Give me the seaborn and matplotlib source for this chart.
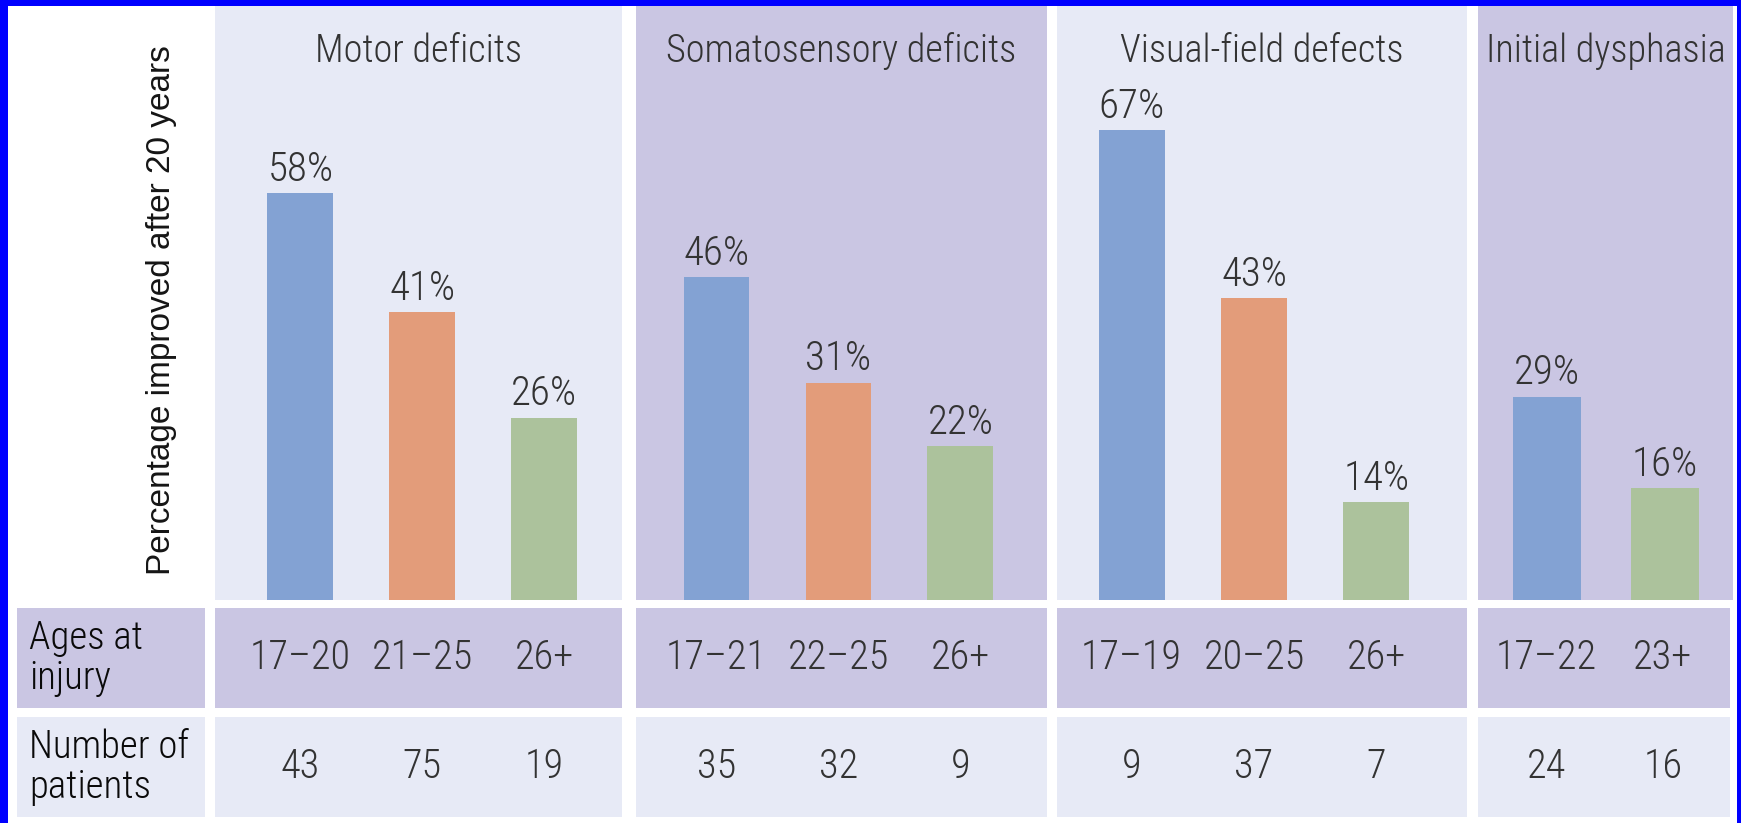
import numpy as np
import pandas as pd
import matplotlib
matplotlib.use("Agg")
import matplotlib.pyplot as plt
from matplotlib import font_manager as fm
from matplotlib.patches import Rectangle
import seaborn as sns

# data
groups = ["Motor deficits", "Somatosensory deficits", "Visual-field defects", "Initial dysphasia"]
motor_pct = [58, 41, 26]
soma_pct = [46, 31, 22]
visual_pct = [67, 43, 14]
dysph_pct = [29, 16]
motor_ages = ["17\u201320", "21\u201325", "26+"]
soma_ages = ["17\u201321", "22\u201325", "26+"]
visual_ages = ["17\u201319", "20\u201325", "26+"]
dysph_ages = ["17\u201322", "23+"]
motor_n = [43, 75, 19]
soma_n = [35, 32, 9]
visual_n = [9, 37, 7]
dysph_n = [24, 16]
row_labels = ["Ages at\ninjury", "Number of\npatients"]
y_label = "Percentage improved after 20 years"

sns.set_theme(style="white")

# pick a condensed face if there is one
names = {f.name for f in fm.fontManager.ttflist}
narrow = next((n for n in ["Roboto Condensed", "Liberation Sans Narrow", "Open Sans Condensed"]
               if n in names), None)
cond_dejavu = any(f.name == "DejaVu Sans" and f.stretch == "condensed" for f in fm.fontManager.ttflist)
if narrow:
    nfont = dict(family=narrow, weight="light")
elif cond_dejavu:
    nfont = dict(family="DejaVu Sans", stretch="condensed")
else:
    nfont = dict(family="Liberation Sans")

light = "#e7eaf6"
purple = "#cac6e3"
blue, orange, green = "#83a2d3", "#e39c7a", "#acc29c"
txt = "#333333"

W, H = 1741, 823
fig = plt.figure(figsize=(W / 100, H / 100), dpi=100, facecolor="#0000ff")
fig.add_artist(Rectangle((8 / W, 0), 1729 / W, 817 / H, transform=fig.transFigure,
                         facecolor="white", edgecolor="none", zorder=-5))


def box(x0, y0, x1, y1):
    return [x0 / W, 1 - y1 / H, (x1 - x0) / W, (y1 - y0) / H]


def clean(ax, bg):
    ax.set_facecolor(bg)
    ax.set_xticks([])
    ax.set_yticks([])
    ax.set_xlabel("")
    ax.set_ylabel("")
    for s in ax.spines.values():
        s.set_visible(False)


panels = [
    (motor_pct, motor_ages, motor_n, [blue, orange, green], (215, 622), (-0.70, 2.64), 0.54, light),
    (soma_pct, soma_ages, soma_n, [blue, orange, green], (636, 1047), (-0.66, 2.71), 0.54, purple),
    (visual_pct, visual_ages, visual_n, [blue, orange, green], (1057, 1467), (-0.61, 2.74), 0.54, light),
    (dysph_pct, dysph_ages, dysph_n, [blue, green], (1478, 1733), (-0.585, 1.575), 0.58, purple),
]

for title, (pct, ages, counts, cols, (x0, x1), xl, w, bg) in zip(groups, panels):
    ax = fig.add_axes(box(x0, 6, x1, 600))
    df = pd.DataFrame({"age": ages, "pct": pct})
    sns.barplot(data=df, x="age", y="pct", hue="age", palette=cols, width=w,
                saturation=1, legend=False, linewidth=0, ax=ax)
    ax.set_xlim(*xl)
    ax.set_ylim(0, 84.7)
    clean(ax, bg)
    for c, v in zip(ax.containers, pct):
        ax.bar_label(c, labels=[f"{v}%"], padding=3, fontsize=29.5, color=txt, **nfont)
    ax.text(0.5, 0.924, title, transform=ax.transAxes, ha="center", va="center",
            fontsize=27.5, color=txt, **nfont)

    r1 = fig.add_axes(box(x0, 608, min(x1, 1730), 708))
    r1.set_xlim(*xl)
    r1.set_ylim(0, 1)
    clean(r1, purple)
    for j, a in enumerate(ages):
        r1.text(j, 0.5, a, ha="center", va="center", fontsize=29, color=txt, **nfont)

    r2 = fig.add_axes(box(x0, 717, min(x1, 1730), 817))
    r2.set_xlim(*xl)
    r2.set_ylim(0, 1)
    clean(r2, light)
    for j, n in enumerate(counts):
        r2.text(j, 0.5, str(n), ha="center", va="center", fontsize=29, color=txt, **nfont)

# row header cells
for (y0, y1), lab, bg in zip([(608, 708), (717, 817)], row_labels, [purple, light]):
    la = fig.add_axes(box(17, y0, 205, y1))
    clean(la, bg)
    la.text(12 / 188, 0.5, lab, transform=la.transAxes, ha="left", va="center",
            fontsize=28, color="#0a0a0a", linespacing=1.1, **nfont)

fig.text(162 / W, 1 - 310 / H, y_label, rotation=90, ha="center", va="center",
         fontsize=24, color="#151515", family="Liberation Sans")

fig.savefig("out.png", dpi=100, facecolor=fig.get_facecolor())
